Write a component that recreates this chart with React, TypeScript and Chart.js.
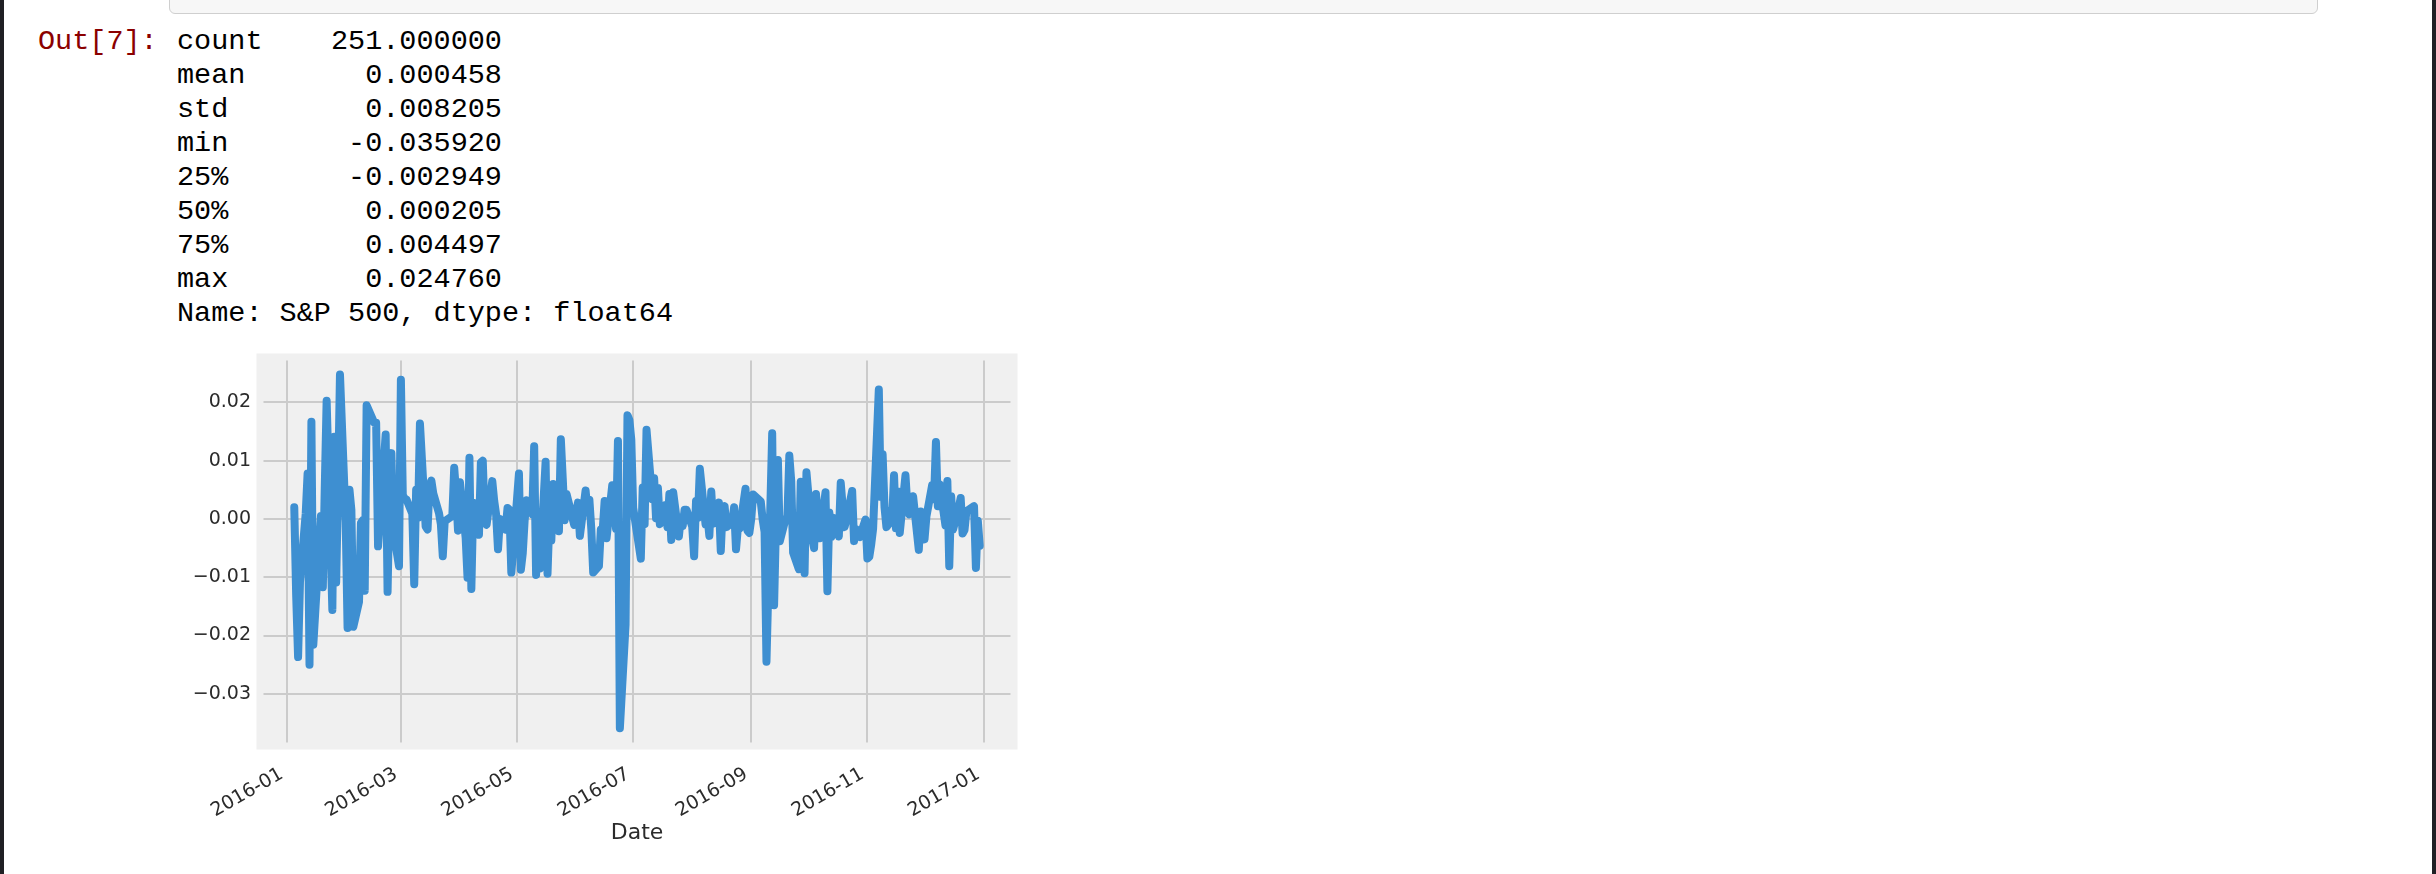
import React, { useEffect, useRef } from "react";
import { Chart, registerables } from "chart.js";

Chart.register(...registerables);

// ---- Output text (pandas describe) ----
const PROMPT = "Out[7]:";
const STAT_NAMES = ["count", "mean", "std", "min", "25%", "50%", "75%", "max"];
const STAT_VALUES = ["251.000000", "0.000458", "0.008205", "-0.035920", "-0.002949", "0.000205", "0.004497", "0.024760"];
const FOOTER = "Name: S&P 500, dtype: float64";

// ---- Chart data: S&P 500 daily returns, 2016 ----
const HOLIDAYS = ["2016-01-18", "2016-02-15", "2016-03-25", "2016-05-30", "2016-07-04", "2016-09-05", "2016-11-24", "2016-12-26"];
const FIRST_DATE = "2016-01-05";
const LAST_DATE = "2016-12-30";

const JAN = [0.0020, -0.0131, -0.0237, -0.0108, 0.0009, 0.0078, -0.0250, 0.0167, -0.0216, 0.0005, -0.0117, 0.0052, 0.0203, -0.0156, 0.0141, -0.0109, 0.0055, 0.0248];
const FEB = [-0.0004, -0.0187, 0.0050, 0.0015, -0.0185, -0.0142, -0.0007, -0.0002, -0.0123, 0.0195, 0.0165, 0.0165, -0.0047, 0.0000, 0.0145, -0.0125, 0.0044, 0.0113, -0.0019, -0.0081];
const MAR = [0.0239, 0.0041, 0.0035, 0.0033, 0.0009, -0.0112, 0.0050, 0.0002, 0.0164, -0.0013, -0.0018, 0.0056, 0.0066, 0.0044, 0.0010, -0.0009, -0.0064, -0.0004, 0.0005, 0.0088, 0.0044, -0.0020];
const APR = [0.0063, -0.0032, -0.0101, 0.0105, -0.0120, 0.0028, -0.0027, 0.0097, 0.0100, 0.0002, -0.0010, 0.0065, 0.0031, 0.0008, -0.0052, 0.0000, -0.0018, 0.0019, 0.0016, -0.0092, -0.0051];
const MAY = [0.0078, -0.0087, -0.0059, -0.0002, 0.0032, 0.0008, 0.0125, -0.0096, -0.0002, -0.0085, 0.0098, -0.0094, 0.0002, -0.0037, 0.0060, -0.0021, 0.0137, 0.0070, -0.0002, 0.0043, -0.0010];
const JUN = [0.0011, 0.0028, -0.0029, 0.0049, 0.0013, 0.0033, -0.0017, -0.0092, -0.0081, -0.0018, -0.0018, 0.0031, -0.0033, 0.0058, 0.0027, -0.0017, 0.0134, -0.0359, -0.0181, 0.0178, 0.0170, 0.0136];
const JUL = [0.0019, -0.0068, 0.0054, -0.0009, 0.0153, 0.0034, 0.0070, 0.0001, 0.0053, -0.0009, 0.0024, -0.0014, 0.0043, -0.0036, 0.0046, -0.0030, 0.0003, -0.0012, 0.0016, 0.0016];
const AUG = [-0.0013, -0.0064, 0.0031, 0.0002, 0.0086, -0.0009, 0.0004, -0.0029, 0.0047, -0.0008, 0.0028, -0.0055, 0.0019, 0.0022, -0.0014, -0.0006, 0.0020, -0.0052, -0.0014, -0.0016, 0.0052, -0.0020, -0.0024];
const SEP = [-0.0000, 0.0042, 0.0030, -0.0001, -0.0022, -0.0245, 0.0147, -0.0148, -0.0006, 0.0101, -0.0038, -0.0000, 0.0003, 0.0109, 0.0065, -0.0058, -0.0086, 0.0064, 0.0053, -0.0093, 0.0080];
const OCT = [-0.0033, -0.0050, 0.0043, 0.0005, -0.0033, 0.0046, -0.0124, 0.0011, -0.0031, 0.0002, -0.0030, 0.0062, 0.0022, -0.0014, -0.0001, 0.0048, -0.0038, -0.0017, -0.0029, -0.0031, -0.0001];
const NOV = [-0.0068, -0.0065, -0.0044, -0.0017, 0.0222, 0.0038, 0.0111, 0.0020, -0.0014, -0.0001, 0.0075, -0.0016, 0.0047, -0.0024, 0.0075, 0.0022, 0.0008, 0.0039, -0.0053, 0.0013, -0.0027];
const DEC = [-0.0035, 0.0004, 0.0058, 0.0034, 0.0132, 0.0022, 0.0059, -0.0011, 0.0065, -0.0081, 0.0039, -0.0018, 0.0020, 0.0036, -0.0025, -0.0019, 0.0013, 0.0022, -0.0084, -0.0003, -0.0046];

const X_TICK_DATES = ["2016-01-01", "2016-03-01", "2016-05-01", "2016-07-01", "2016-09-01", "2016-11-01", "2017-01-01"];
const X_TICK_LABELS = ["2016-01", "2016-03", "2016-05", "2016-07", "2016-09", "2016-11", "2017-01"];
const Y_TICKS = [-0.03, -0.02, -0.01, 0.0, 0.01, 0.02];
const X_TITLE = "Date";

const DAY = 86400000;
const ORIGIN = Date.UTC(2016, 0, 1);
const toMs = (s: string) => {
  const [y, m, d] = s.split("-").map(Number);
  return Date.UTC(y, m - 1, d);
};
const toDay = (s: string) => (toMs(s) - ORIGIN) / DAY;

function tradingDays(): number[] {
  const hol = new Set(HOLIDAYS.map(toMs));
  const out: number[] = [];
  for (let t = toMs(FIRST_DATE); t <= toMs(LAST_DATE); t += DAY) {
    const wd = new Date(t).getUTCDay();
    if (wd === 0 || wd === 6 || hol.has(t)) continue;
    out.push((t - ORIGIN) / DAY);
  }
  return out;
}

const fmtY = (v: number) => {
  const s = Math.abs(v).toFixed(2);
  return v < -1e-9 ? "\u2212" + s : s;
};

const FONT = "'DejaVu Sans', 'Bitstream Vera Sans', sans-serif";

const plotFrame = {
  id: "plotFrame",
  beforeDraw(chart: any) {
    const { ctx, chartArea: a } = chart;
    ctx.save();
    ctx.fillStyle = "#f0f0f0";
    ctx.fillRect(a.left - 3, a.top - 3, a.right - a.left + 6, a.bottom - a.top + 6);
    ctx.restore();
  },
  beforeDatasetsDraw(chart: any) {
    const { ctx, chartArea: a } = chart;
    ctx.save();
    ctx.strokeStyle = "#f0f0f0";
    ctx.lineWidth = 7;
    ctx.strokeRect(a.left, a.top, a.right - a.left, a.bottom - a.top);
    ctx.restore();
  },
};

function ReturnsChart() {
  const ref = useRef<HTMLCanvasElement | null>(null);
  useEffect(() => {
    if (!ref.current) return;
    const values = [...JAN, ...FEB, ...MAR, ...APR, ...MAY, ...JUN, ...JUL, ...AUG, ...SEP, ...OCT, ...NOV, ...DEC];
    const days = tradingDays();
    const n = Math.min(values.length, days.length);
    const points = [];
    for (let i = 0; i < n; i++) points.push({ x: days[i], y: values[i] });
    const xTicks = X_TICK_DATES.map(toDay);

    const chart = new Chart(ref.current, {
      type: "line",
      data: {
        datasets: [
          {
            data: points,
            borderColor: "#3e8fd1",
            borderWidth: 8,
            pointRadius: 0,
            tension: 0,
            fill: false,
            borderCapStyle: "round",
            borderJoinStyle: "round",
          } as any,
        ],
      },
      options: {
        responsive: false,
        animation: false,
        devicePixelRatio: 1,
        layout: { padding: { top: 27, right: 36, left: 0, bottom: 0 } },
        plugins: { legend: { display: false }, tooltip: { enabled: false } },
        scales: {
          x: {
            type: "linear",
            min: -14,
            max: 382,
            afterBuildTicks: (s: any) => {
              s.ticks = xTicks.map((v) => ({ value: v }));
            },
            afterFit: (s: any) => {
              s.height = 128;
            },
            ticks: {
              autoSkip: false,
              minRotation: 30,
              maxRotation: 30,
              padding: 17,
              labelOffset: -5,
              color: "#2b2b2b",
              font: { family: FONT, size: 19 },
              callback: (_v: any, i: number) => X_TICK_LABELS[i],
            },
            grid: { color: "#cbcbcb", lineWidth: 2, drawTicks: false },
            border: { display: false },
            title: {
              display: true,
              text: X_TITLE,
              color: "#2b2b2b",
              font: { family: FONT, size: 22 },
              padding: { top: 0, bottom: 28 },
            },
          },
          y: {
            min: -0.038954,
            max: 0.027794,
            afterBuildTicks: (s: any) => {
              s.ticks = Y_TICKS.map((v) => ({ value: v }));
            },
            afterFit: (s: any) => {
              s.width = 90;
            },
            ticks: {
              padding: 9,
              color: "#2b2b2b",
              font: { family: FONT, size: 19 },
              callback: (v: any) => fmtY(Number(v)),
            },
            grid: { color: "#cbcbcb", lineWidth: 2, drawTicks: false },
            border: { display: false },
          },
        },
      } as any,
      plugins: [plotFrame],
    });
    return () => chart.destroy();
  }, []);
  return (
    <canvas
      ref={ref}
      width={880}
      height={544}
      style={{ position: "absolute", left: 170, top: 330, width: 880, height: 544, display: "block" }}
    />
  );
}

export default function App() {
  const lines = STAT_NAMES.map((n, i) => n.padEnd(5) + STAT_VALUES[i].padStart(14));
  lines.push(FOOTER);
  const mono = "'Liberation Mono', 'Courier New', monospace";
  return (
    <div style={{ position: "absolute", left: 0, top: 0, width: 2436, height: 874, overflow: "hidden", background: "#ffffff" }}>
      <div style={{ position: "absolute", left: 0, top: 0, width: 4, height: 874, background: "#1f2024" }} />
      <div style={{ position: "absolute", left: 2432, top: 0, width: 4, height: 874, background: "#1f2024" }} />
      <div
        style={{
          position: "absolute",
          left: 169,
          top: -20,
          width: 2147,
          height: 32,
          background: "#f7f7f7",
          border: "1px solid #cfcfcf",
          borderRadius: 6,
        }}
      />
      <pre style={{ position: "absolute", left: 38, top: 25.4, margin: 0, fontFamily: mono, fontSize: 28.5, lineHeight: "34px", color: "#8b0000" }}>
        {PROMPT}
      </pre>
      <pre style={{ position: "absolute", left: 177, top: 25.4, margin: 0, fontFamily: mono, fontSize: 28.5, lineHeight: "34px", color: "#000000" }}>
        {lines.join("\n")}
      </pre>
      <ReturnsChart />
    </div>
  );
}
